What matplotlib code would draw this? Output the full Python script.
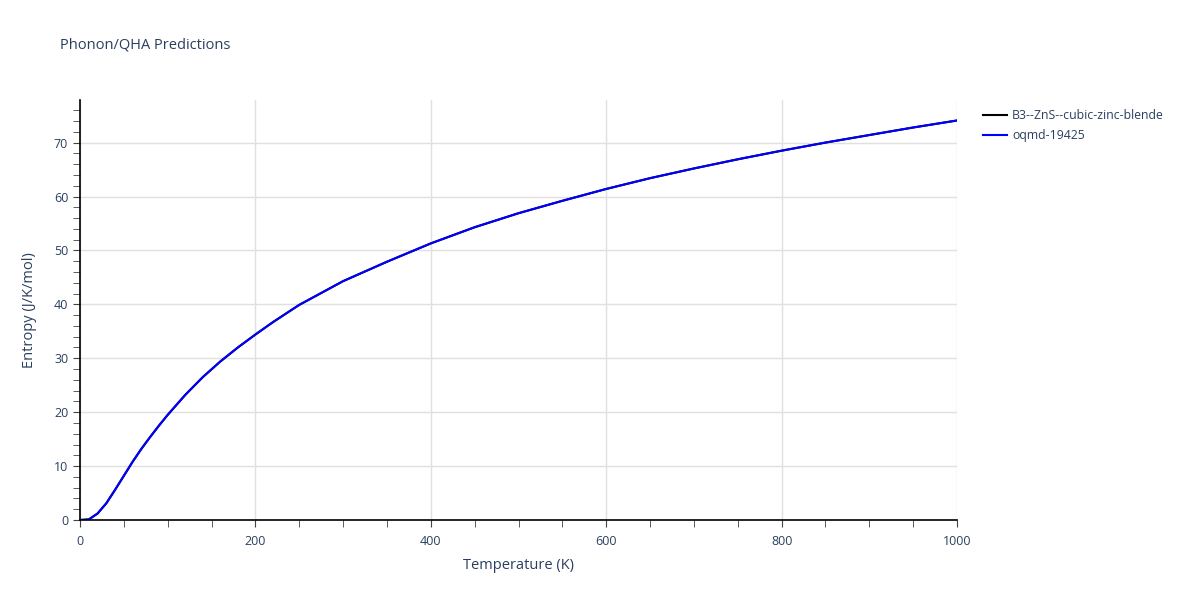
import numpy as np
import matplotlib.pyplot as plt
from matplotlib.ticker import MultipleLocator

plt.rcParams['font.family'] = ['Open Sans', 'DejaVu Sans']

# values
temperature = [0, 10, 20, 30, 40, 50, 60, 70, 80, 90, 100, 120, 140, 160, 180, 200, 220,
               250, 300, 350, 400, 450, 500, 550, 600, 650, 700, 750, 800, 850, 900, 950, 1000]
entropy_ref = [0.0, 0.1, 1.2, 3.1, 5.6, 8.2, 10.8, 13.2, 15.4, 17.5, 19.5, 23.2, 26.5, 29.4,
               32.0, 34.4, 36.7, 39.9, 44.3, 47.9, 51.3, 54.3, 56.9, 59.2, 61.4, 63.4,
               65.2, 66.9, 68.5, 70.0, 71.4, 72.8, 74.1]
entropy_oqmd = entropy_ref
series_names = ["B3--ZnS--cubic-zinc-blende", "oqmd-19425"]

text_col = '#2a3f5f'
fig = plt.figure(figsize=(12, 6), dpi=100)
ax = fig.add_axes([80 / 1200, 80 / 600, 877 / 1200, 420 / 600])

ax.plot(temperature, entropy_ref, color='black', lw=1.5, label=series_names[0])
ax.plot(temperature, entropy_oqmd, color='#0000ff', lw=1.5, label=series_names[1])

ax.set_xlim(0, 1000)
ax.set_ylim(0, 77.9)
ax.xaxis.set_major_locator(MultipleLocator(200))
ax.xaxis.set_minor_locator(MultipleLocator(50))
ax.yaxis.set_major_locator(MultipleLocator(10))
ax.yaxis.set_minor_locator(MultipleLocator(2))
ax.grid(True, which='major', color='#e0e0e0', lw=1)
ax.set_axisbelow(True)
for s in ['top', 'right']:
    ax.spines[s].set_visible(False)
for s in ['left', 'bottom']:
    ax.spines[s].set_color('black')
    ax.spines[s].set_linewidth(1.2)
ax.tick_params(which='both', direction='out', length=5, color='#444444', labelcolor=text_col,
               labelsize=9)
ax.tick_params(axis='x', which='major', pad=6)

ax.set_xlabel("Temperature (K)", color=text_col, fontsize=10.5, labelpad=7)
ax.set_ylabel("Entropy (J/K/mol)", color=text_col, fontsize=10.5, labelpad=12)
fig.text(60 / 1200, 1 - 45 / 600, "Phonon/QHA Predictions", color=text_col, fontsize=10.5,
         va='center', ha='left')

fig.legend(loc='upper left', bbox_to_anchor=(978 / 1200, 1 - 104 / 600), frameon=False,
           fontsize=8.8, labelcolor=text_col, handlelength=2.0, handletextpad=0.4,
           borderaxespad=0, labelspacing=0.6)

fig.savefig('out.png', dpi=100)
